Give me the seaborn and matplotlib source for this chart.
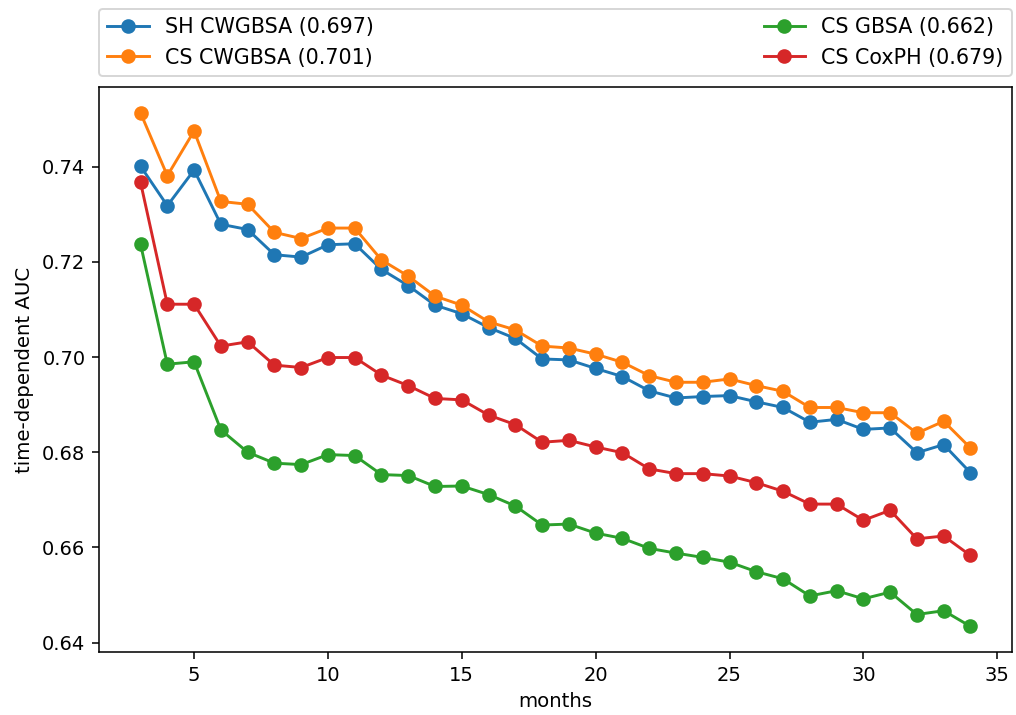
import numpy as np
import pandas as pd
import matplotlib
matplotlib.use("Agg")
import matplotlib.pyplot as plt
import seaborn as sns

DPI = 140

months = list(range(3, 35))

sh_cwgbsa = [0.7401, 0.7318, 0.7393, 0.7279, 0.7268, 0.7215, 0.7210, 0.7236,
             0.7238, 0.7184, 0.7150, 0.7109, 0.7091, 0.7062, 0.7039, 0.6996,
             0.6994, 0.6976, 0.6959, 0.6929, 0.6914, 0.6917, 0.6919, 0.6906,
             0.6894, 0.6863, 0.6869, 0.6848, 0.6851, 0.6799, 0.6816, 0.6757]
cs_cwgbsa = [0.7513, 0.7381, 0.7475, 0.7327, 0.7321, 0.7262, 0.7249, 0.7271,
             0.7271, 0.7204, 0.7170, 0.7128, 0.7109, 0.7074, 0.7057, 0.7023,
             0.7019, 0.7006, 0.6989, 0.6961, 0.6947, 0.6947, 0.6954, 0.6940,
             0.6928, 0.6894, 0.6894, 0.6883, 0.6883, 0.6840, 0.6865, 0.6809]
cs_gbsa = [0.7237, 0.6985, 0.6990, 0.6847, 0.6800, 0.6777, 0.6774, 0.6795,
           0.6793, 0.6753, 0.6751, 0.6728, 0.6729, 0.6711, 0.6687, 0.6647,
           0.6649, 0.6630, 0.6619, 0.6598, 0.6588, 0.6579, 0.6569, 0.6549,
           0.6534, 0.6498, 0.6509, 0.6492, 0.6506, 0.6459, 0.6467, 0.6434]
cs_coxph = [0.7367, 0.7111, 0.7111, 0.7023, 0.7032, 0.6983, 0.6978, 0.6999,
            0.6999, 0.6962, 0.6940, 0.6913, 0.6910, 0.6878, 0.6858, 0.6821,
            0.6825, 0.6811, 0.6799, 0.6765, 0.6755, 0.6755, 0.6750, 0.6736,
            0.6718, 0.6691, 0.6691, 0.6657, 0.6678, 0.6618, 0.6624, 0.6583]

labels = ["SH CWGBSA (0.697)", "CS CWGBSA (0.701)",
          "CS GBSA (0.662)", "CS CoxPH (0.679)"]
series = [sh_cwgbsa, cs_cwgbsa, cs_gbsa, cs_coxph]
colors = ["#1f77b4", "#ff7f0e", "#2ca02c", "#d62728"]

fig, ax = plt.subplots(figsize=(1016 / DPI, 715 / DPI), dpi=DPI)
fig.subplots_adjust(left=0.0975, right=0.996, bottom=0.088, top=0.878)

for vals, lab, col in zip(series, labels, colors):
    df = pd.DataFrame({"months": months, "auc": vals})
    sns.lineplot(data=df, x="months", y="auc", color=col, marker="o",
                 markersize=6.5, markeredgecolor=col, markeredgewidth=1.0,
                 linewidth=1.5, label=lab, ax=ax)

ax.set_xlabel("months", fontsize=10.2)
ax.set_ylabel("time-dependent AUC", fontsize=10.2)
ax.set_yticks([0.64, 0.66, 0.68, 0.70, 0.72, 0.74])
ax.set_xticks([5, 10, 15, 20, 25, 30, 35])

ax.legend(bbox_to_anchor=(0, 1.02, 1, 0.2), loc="lower left",
          mode="expand", ncol=2, borderaxespad=0, fontsize=10.6)

fig.savefig("out.png", dpi=DPI)
